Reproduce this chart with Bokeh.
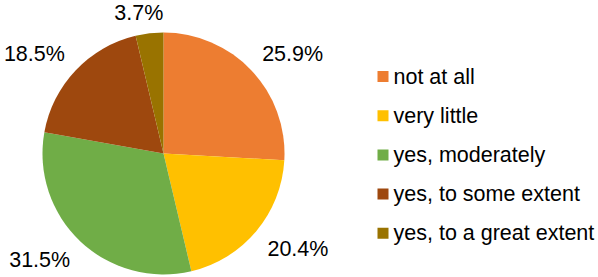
import numpy as np
from bokeh.plotting import figure
from bokeh.models import Range1d, ColumnDataSource
from bokeh.core.properties import value
from bokeh.embed import file_html
from bokeh.resources import INLINE

categories = ["not at all", "very little", "yes, moderately", "yes, to some extent", "yes, to a great extent"]
shares = [25.9, 20.4, 31.5, 18.5, 3.7]
labels = ["25.9%", "20.4%", "31.5%", "18.5%", "3.7%"]
colors = ["#ED7D31", "#FFC000", "#70AD47", "#9E480E", "#997300"]

W, H = 598, 277
FS = 21.5
p = figure(width=W, height=H, output_backend="svg", toolbar_location=None,
           x_range=Range1d(0, W), y_range=Range1d(0, H),
           min_border=0)
p.axis.visible = False
p.grid.visible = False
p.outline_line_color = None
p.background_fill_color = "white"

cx, cy, r = 163, 124, 121
frac = np.array(shares) / np.sum(shares)
cum = np.concatenate([[0], np.cumsum(frac)])
start = np.pi / 2 - 2 * np.pi * cum[:-1]
end = np.pi / 2 - 2 * np.pi * cum[1:]
mid = (start + end) / 2

src = ColumnDataSource(dict(start=start, end=end, color=colors))
p.wedge(x=cx, y=cy, radius=r, start_angle="start", end_angle="end",
        direction="clock", fill_color="color", line_color=None, source=src)

# outside-end labels: anchor just beyond the rim, box pushed outward
def text_w(s):
    em = {"%": 0.889, ".": 0.278}
    return FS * sum(em.get(ch, 0.556) for ch in s)

ra = 133
f = lambda t: np.clip(3 * t, -1, 1)
ws = np.array([text_w(s) for s in labels])
lx_ = cx + ra * np.cos(mid) + (ws / 2 + 2) * f(np.cos(mid))
ly_ = cy + ra * np.sin(mid) + 8 * f(np.sin(mid)) - 2 * (np.sin(mid) < 0)
lsrc = ColumnDataSource(dict(x=lx_, y=ly_, t=labels))
p.text(x="x", y="y", text="t", source=lsrc, text_align="center", text_baseline="middle",
       text_font=value("Liberation Sans"), text_font_size=f"{FS}px", text_color="#000000")

# legend
lx, ly0, dy = 382.5, 277 - 76, 39.2
ys = ly0 - dy * np.arange(len(categories))
p.rect(x=lx, y=ys, width=11, height=11, fill_color=colors, line_color=None)
p.text(x=lx + 10.5, y=ys, text=categories, text_align="left", text_baseline="middle",
       text_font=value("Liberation Sans"), text_font_size=f"{FS}px", text_color="#000000")

open("out.html", "w").write(file_html(p, INLINE))
